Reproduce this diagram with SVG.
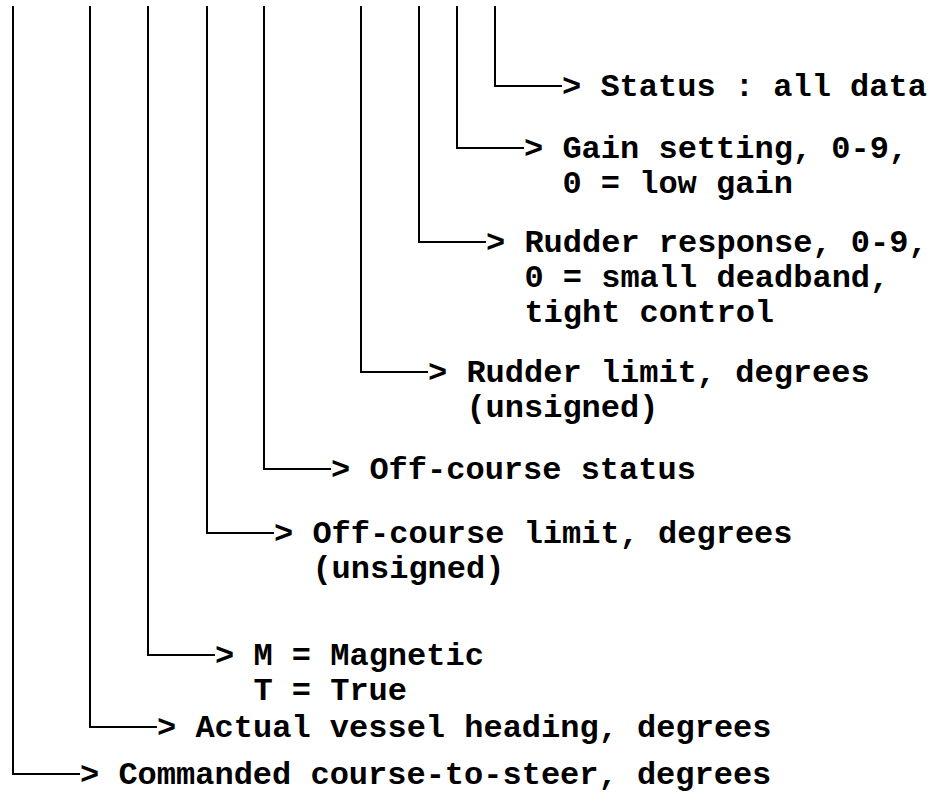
<svg xmlns="http://www.w3.org/2000/svg" width="933" height="802" viewBox="0 0 933 802">
<style>
.t{font-family:"Liberation Mono","Courier New",monospace;font-weight:bold;font-size:32px;fill:#000}
.c{stroke:#000;stroke-width:2;fill:none}
</style>
<rect width="933" height="802" fill="#fff"/>
<g id="connectors">
<path class="c" d="M495,6 V86 H562"/>
<path class="c" d="M457,6 V148 H524"/>
<path class="c" d="M419,6 V242 H486"/>
<path class="c" d="M361,6 V372 H428"/>
<path class="c" d="M264,6 V469 H331"/>
<path class="c" d="M207,6 V533 H274"/>
<path class="c" d="M148,6 V655 H215"/>
<path class="c" d="M90,6 V727 H157"/>
<path class="c" d="M13,6 V774 H80"/>
</g>
<g id="status"><text class="t" x="562" y="96">&gt; Status : all data</text></g>
<g id="gain"><text class="t" x="524" y="158">&gt; Gain setting, 0-9,</text><text class="t" x="562.4" y="193">0 = low gain</text></g>
<g id="rudder-response"><text class="t" x="486" y="252">&gt; Rudder response, 0-9,</text><text class="t" x="524.4" y="287">0 = small deadband,</text><text class="t" x="524.4" y="322">tight control</text></g>
<g id="rudder-limit"><text class="t" x="428" y="382">&gt; Rudder limit, degrees</text><text class="t" x="466.4" y="417">(unsigned)</text></g>
<g id="off-course-status"><text class="t" x="331" y="479">&gt; Off-course status</text></g>
<g id="off-course-limit"><text class="t" x="274" y="543">&gt; Off-course limit, degrees</text><text class="t" x="312.4" y="578">(unsigned)</text></g>
<g id="heading-ref"><text class="t" x="215" y="665">&gt; M = Magnetic</text><text class="t" x="253.4" y="700">T = True</text></g>
<g id="actual-heading"><text class="t" x="157" y="737">&gt; Actual vessel heading, degrees</text></g>
<g id="commanded"><text class="t" x="80" y="784">&gt; Commanded course-to-steer, degrees</text></g>
</svg>
